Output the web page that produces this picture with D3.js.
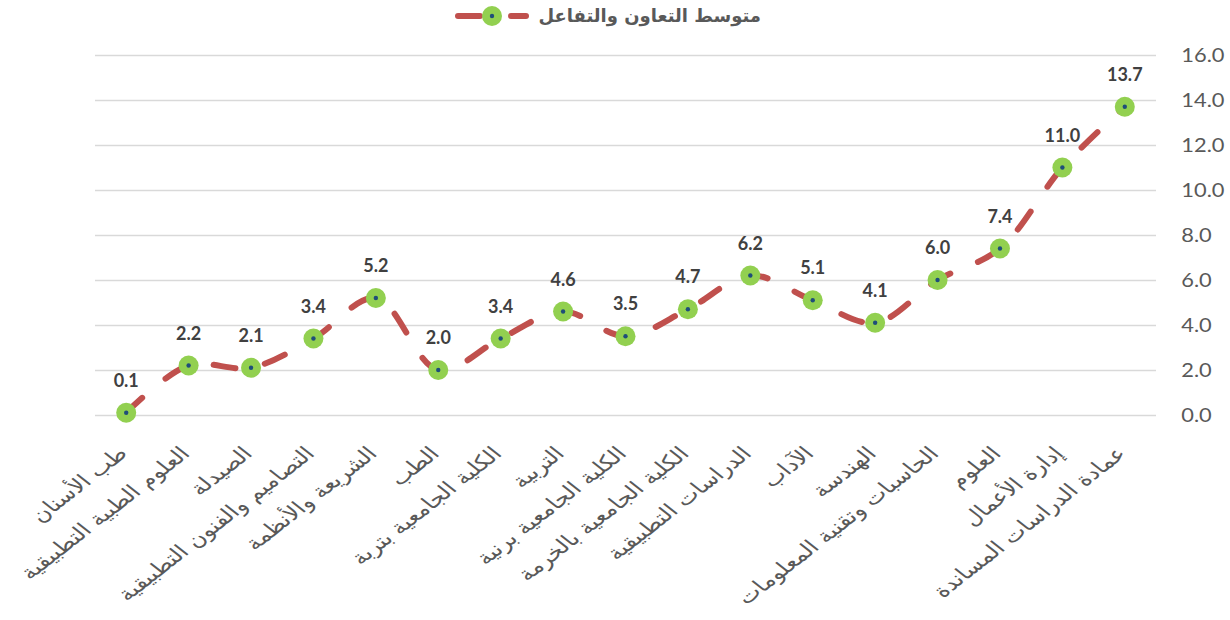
<!DOCTYPE html>
<html>
<head>
<meta charset="utf-8">
<script src="https://cdn.jsdelivr.net/npm/d3@7"></script>
<style>
  body { margin: 0; background: #fff; }
  svg { display: block; }
</style>
</head>
<body>
<div id="chart"></div>
<script>
const width = 1230, height = 620;

// data
const categories = [
  "طب الأسنان", "العلوم الطبية التطبيقية", "الصيدلة", "التصاميم والفنون التطبيقية",
  "الشريعة والأنظمة", "الطب", "الكلية الجامعية بتربة", "التربية",
  "الكلية الجامعية برنية", "الكلية الجامعية بالخرمة", "الدراسات التطبيقية", "الآداب",
  "الهندسة", "الحاسبات وتقنية المعلومات", "العلوم", "إدارة الأعمال", "عمادة الدراسات المساندة"
];
const values = [0.1, 2.2, 2.1, 3.4, 5.2, 2.0, 3.4, 4.6, 3.5, 4.7, 6.2, 5.1, 4.1, 6.0, 7.4, 11.0, 13.7];
const yTicks = [0, 2, 4, 6, 8, 10, 12, 14, 16];
const seriesName = "متوسط التعاون والتفاعل";

const lineColor = "#c0504d", dotColor = "#92d050", centerColor = "#1f4e79";
const textColor = "#595959";
const numFont = "Lato, 'Open Sans', sans-serif";
const arFont = "'DejaVu Sans', sans-serif";

const svg = d3.select("#chart").append("svg")
    .attr("width", width)
    .attr("height", height);

const x = d3.scaleBand().domain(categories).range([95, 1156]);
const y = d3.scaleLinear().domain([0, 16]).range([415, 55]);
const cx = d => x(d) + x.bandwidth() / 2;

// gridlines + right axis labels
const yAxis = d3.axisRight(y).tickValues(yTicks).tickFormat(d3.format(".1f"))
    .tickSize(-(1156 - 95)).tickPadding(22);
svg.append("g")
    .attr("transform", "translate(1156,0)")
    .call(yAxis)
    .call(g => g.select(".domain").remove())
    .call(g => g.selectAll(".tick line").attr("stroke", "#d9d9d9").attr("stroke-width", 1.5))
    .call(g => g.selectAll(".tick text")
        .attr("fill", textColor)
        .attr("transform", "scale(1.15,1)")
        .style("font-family", numFont)
        .style("font-size", "19px"));

// x labels, rotated (picture is stretched sideways, so scale after rotating)
svg.append("g").selectAll("text")
    .data(categories)
    .join("text")
    .attr("transform", d => `translate(${cx(d) - 10},445) scale(1.28,1) rotate(-45)`)
    .attr("text-anchor", "end")
    .attr("dy", "0.72em")
    .attr("fill", textColor)
    .style("font-family", arFont)
    .style("font-size", "19px")
    .text(d => d);

// smoothed dashed line
const line = d3.line()
    .x((d, i) => cx(categories[i]))
    .y(d => y(d))
    .curve(d3.curveCatmullRom.alpha(0.5));

svg.append("path")
    .datum(values)
    .attr("d", line)
    .attr("fill", "none")
    .attr("stroke", lineColor)
    .attr("stroke-width", 6)
    .attr("stroke-linecap", "round")
    .attr("stroke-dasharray", "22,30");

// markers
const pts = svg.append("g").selectAll("g")
    .data(values)
    .join("g")
    .attr("transform", (d, i) => `translate(${cx(categories[i])},${y(d)})`);
pts.append("circle").attr("r", 10).attr("fill", dotColor);
pts.append("circle").attr("r", 2.2).attr("fill", centerColor);

// value labels
svg.append("g").selectAll("text")
    .data(values)
    .join("text")
    .attr("x", (d, i) => cx(categories[i]))
    .attr("y", d => y(d) - 26)
    .attr("text-anchor", "middle")
    .attr("fill", "#404040")
    .style("font-family", numFont)
    .style("font-weight", "bold")
    .style("font-size", "18px")
    .text(d => d3.format(".1f")(d));

// legend / title
const lg = svg.append("g").attr("transform", "translate(0,16)");
lg.append("line").attr("x1", 458).attr("x2", 480).attr("y1", 0).attr("y2", 0)
    .attr("stroke", lineColor).attr("stroke-width", 6).attr("stroke-linecap", "round");
lg.append("line").attr("x1", 511).attr("x2", 526).attr("y1", 0).attr("y2", 0)
    .attr("stroke", lineColor).attr("stroke-width", 6).attr("stroke-linecap", "round");
lg.append("circle").attr("cx", 492).attr("cy", 0).attr("r", 10).attr("fill", dotColor);
lg.append("circle").attr("cx", 492).attr("cy", 0).attr("r", 2.2).attr("fill", centerColor);
lg.append("text")
    .attr("x", 761).attr("y", 0).attr("dy", "0.32em")
    .attr("text-anchor", "end")
    .attr("fill", textColor)
    .style("font-family", arFont)
    .style("font-weight", "bold")
    .style("font-size", "18px")
    .text(seriesName);
</script>
</body>
</html>
